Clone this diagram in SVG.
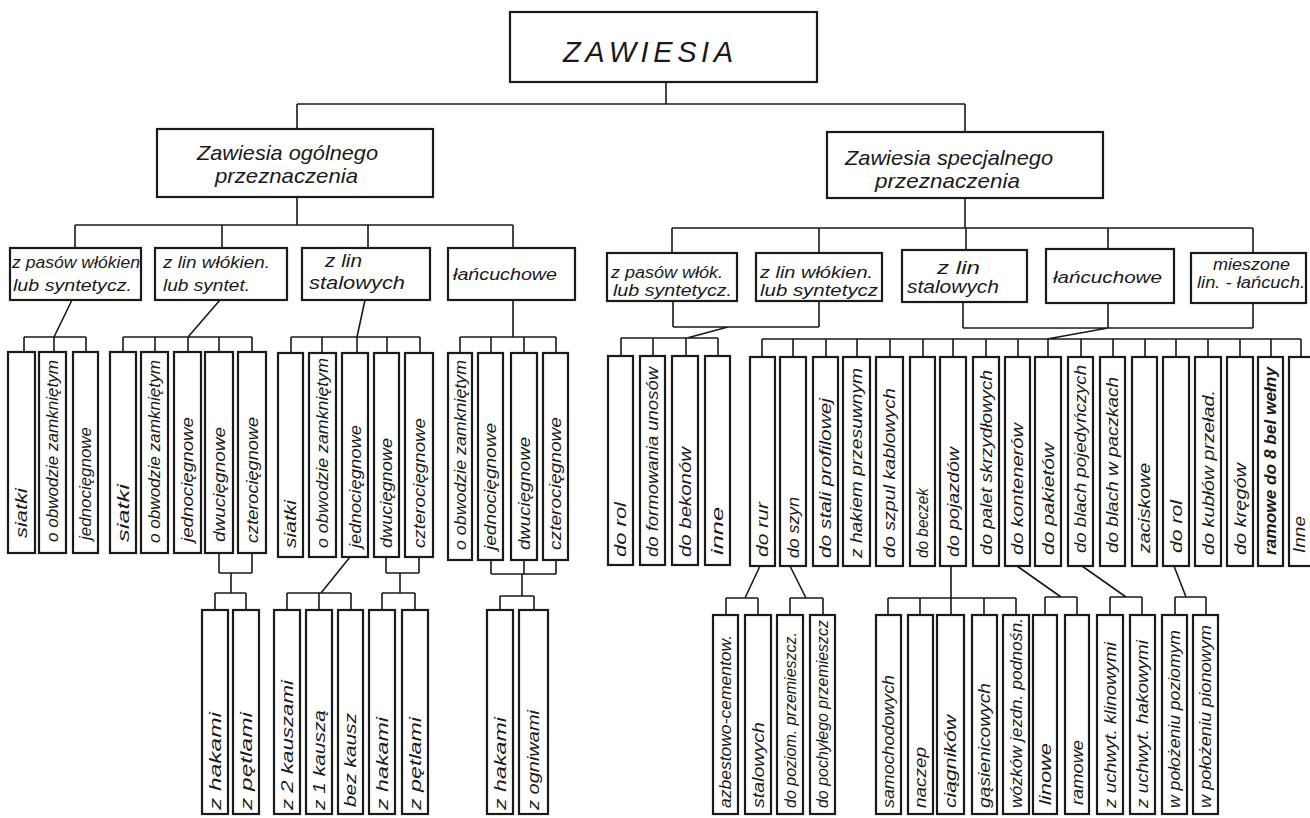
<svg xmlns="http://www.w3.org/2000/svg" width="1310" height="818" viewBox="0 0 1310 818">
<style>
.b{fill:#fff;stroke:#1a1a1a;stroke-width:2.2}
.c{fill:none;stroke:#1a1a1a;stroke-width:1.6}
text{font-family:"Liberation Sans",Arial,sans-serif;font-style:italic;fill:#1a1a1a}
.t{font-size:29px}
.l1{font-size:21px}
.h{font-size:16px}
.hb{font-size:19px}
.v{font-size:17px}
</style>
<rect width="1310" height="818" fill="#fff"/>
<g id="connectors">
<path class="c" d="M666,82V104M297,104H965M297,104V129M965,104V132"/>
<path class="c" d="M297,197V225M75,225H513M75,225V248M222,225V248M368,225V248M513,225V248"/>
<path class="c" d="M965,198V228M672,228H1253M672,228V253M819,228V253M966,228V250M1108,228V249M1253,228V253"/>
<path class="c" d="M72,300L54,337M24,337H86M24,337V352M54,337V352M86,337V352"/>
<path class="c" d="M220,300L188,337M123,337H252M123,337V352M155,337V352M188,337V352M219,337V352M252,337V352"/>
<path class="c" d="M365,300L357,337M291,337H420M291,337V353M322,337V353M357,337V353M387,337V353M420,337V353"/>
<path class="c" d="M513,300V337M460,337H556M460,337V353M491,337V353M524,337V353M556,337V353"/>
<path class="c" d="M219,553V573M252,553V573M219,573H252M231,573V593M215,593H246M215,593V610M246,593V610"/>
<path class="c" d="M350,557L321,593M287,593H351M287,593V610M319,593V610M351,593V610"/>
<path class="c" d="M386,557V573M419,557V573M386,573H419M400,573V593M382,593H415M382,593V610M415,593V610"/>
<path class="c" d="M491,560V574M524,560V574M556,560V574M491,574H556M522,574V596M500,596H534M500,596V610M534,596V610"/>
<path class="c" d="M673,301V327M819,301V327M673,327H819M728,327L687,338M621,338H718M621,338V356M653,338V356M686,338V356M718,338V356"/>
<path class="c" d="M963,302V328M1108,303V328M1253,303V328M963,328H1253M1108,328L1047,339M762,339H1301M762,339V357M793,339V357M826,339V357M857,339V357M890,339V357M923,339V357M953,339V357M986,339V357M1018,339V357M1048,339V357M1081,339V357M1113,339V357M1145,339V357M1176,339V357M1208,339V357M1240,339V357M1271,339V357M1301,339V357"/>
<path class="c" d="M760,566L745,598M726,598H758M726,598V615M758,598V615"/>
<path class="c" d="M790,566L806,598M790,598H823M790,598V615M823,598V615"/>
<path class="c" d="M951,566V598M888,598H1016M888,598V615M920,598V615M951,598V615M984,598V615M1016,598V615"/>
<path class="c" d="M1017,566L1061,597M1045,597H1077M1045,597V615M1077,597V615"/>
<path class="c" d="M1082,566L1126,597M1110,597H1142M1110,597V615M1142,597V615"/>
<path class="c" d="M1174,566L1186,597M1175,597H1206M1175,597V615M1206,597V615"/>
</g>
<g id="n-root"><rect class="b" x="510" y="12" width="307" height="70"/><text class="t" x="563" y="62" textLength="170" lengthAdjust="spacing">ZAWIESIA</text></g>
<g id="n-ogolne"><rect class="b" x="157" y="129" width="276" height="68"/><text class="l1" x="197" y="160" textLength="181" lengthAdjust="spacingAndGlyphs">Zawiesia ogólnego</text><text class="l1" x="215" y="183" textLength="143" lengthAdjust="spacingAndGlyphs">przeznaczenia</text></g>
<g id="n-specjalne"><rect class="b" x="827" y="132" width="276" height="66"/><text class="l1" x="845" y="165" textLength="208" lengthAdjust="spacingAndGlyphs">Zawiesia specjalnego</text><text class="l1" x="875" y="188" textLength="145" lengthAdjust="spacingAndGlyphs">przeznaczenia</text></g>
<g id="n-og-pasy"><rect class="b" x="10" y="248" width="131" height="52"/><text class="h" x="12" y="268" textLength="128" lengthAdjust="spacingAndGlyphs">z pasów włókien</text><text class="h" x="13" y="291" textLength="119" lengthAdjust="spacingAndGlyphs">lub syntetycz.</text></g>
<g id="n-og-liny-wl"><rect class="b" x="155" y="248" width="132" height="52"/><text class="h" x="163" y="268" textLength="107" lengthAdjust="spacingAndGlyphs">z lin włókien.</text><text class="h" x="163" y="291" textLength="87" lengthAdjust="spacingAndGlyphs">lub syntet.</text></g>
<g id="n-og-liny-st"><rect class="b" x="302" y="248" width="128" height="52"/><text class="hb" x="325" y="267" textLength="37" lengthAdjust="spacingAndGlyphs">z lin</text><text class="hb" x="309" y="289" textLength="96" lengthAdjust="spacingAndGlyphs">stalowych</text></g>
<g id="n-og-lanc"><rect class="b" x="448" y="248" width="127" height="52"/><text class="h" x="453" y="280" textLength="104" lengthAdjust="spacingAndGlyphs">łańcuchowe</text></g>
<g id="n-sp-pasy"><rect class="b" x="607" y="253" width="130" height="48"/><text class="h" x="611" y="278" textLength="112" lengthAdjust="spacingAndGlyphs">z pasów włók.</text><text class="h" x="613" y="296" textLength="119" lengthAdjust="spacingAndGlyphs">lub syntetycz.</text></g>
<g id="n-sp-liny-wl"><rect class="b" x="756" y="253" width="126" height="48"/><text class="h" x="760" y="278" textLength="113" lengthAdjust="spacingAndGlyphs">z lin włókien.</text><text class="h" x="760" y="296" textLength="118" lengthAdjust="spacingAndGlyphs">lub syntetycz</text></g>
<g id="n-sp-liny-st"><rect class="b" x="902" y="250" width="125" height="52"/><text class="hb" x="937" y="274" textLength="43" lengthAdjust="spacingAndGlyphs">z lin</text><text class="hb" x="907" y="293" textLength="92" lengthAdjust="spacingAndGlyphs">stalowych</text></g>
<g id="n-sp-lanc"><rect class="b" x="1046" y="249" width="128" height="54"/><text class="h" x="1053" y="283" textLength="109" lengthAdjust="spacingAndGlyphs">łańcuchowe</text></g>
<g id="n-sp-miesz"><rect class="b" x="1191" y="253" width="115" height="50"/><text class="h" x="1213" y="270" textLength="77" lengthAdjust="spacingAndGlyphs">mieszone</text><text class="h" x="1197" y="288" textLength="108" lengthAdjust="spacingAndGlyphs">lin. - łańcuch.</text></g>
<g id="a1"><rect class="b" x="8" y="352" width="27" height="201"/><text class="v" transform="translate(27,538) rotate(-90)" textLength="50" lengthAdjust="spacingAndGlyphs">siatki</text></g>
<g id="a2"><rect class="b" x="39" y="352" width="27" height="201"/><text class="v" transform="translate(58,542) rotate(-90)" textLength="182" lengthAdjust="spacingAndGlyphs">o obwodzie zamkniętym</text></g>
<g id="a3"><rect class="b" x="73" y="352" width="25" height="201"/><text class="v" transform="translate(91,540) rotate(-90)" textLength="113" lengthAdjust="spacingAndGlyphs">jednocięgnowe</text></g>
<g id="b1"><rect class="b" x="110" y="352" width="26" height="201"/><text class="v" transform="translate(128.5,542) rotate(-90)" textLength="58" lengthAdjust="spacingAndGlyphs">siatki</text></g>
<g id="b2"><rect class="b" x="141" y="352" width="27" height="201"/><text class="v" transform="translate(160,543) rotate(-90)" textLength="183" lengthAdjust="spacingAndGlyphs">o obwodzie zamkniętym</text></g>
<g id="b3"><rect class="b" x="174" y="352" width="27" height="201"/><text class="v" transform="translate(193,542) rotate(-90)" textLength="125" lengthAdjust="spacingAndGlyphs">jednocięgnowe</text></g>
<g id="b4"><rect class="b" x="205" y="352" width="28" height="201"/><text class="v" transform="translate(224.5,542) rotate(-90)" textLength="115" lengthAdjust="spacingAndGlyphs">dwucięgnowe</text></g>
<g id="b5"><rect class="b" x="238" y="352" width="28" height="201"/><text class="v" transform="translate(257.5,543) rotate(-90)" textLength="126" lengthAdjust="spacingAndGlyphs">czterocięgnowe</text></g>
<g id="c1"><rect class="b" x="278" y="353" width="25" height="204"/><text class="v" transform="translate(296,548) rotate(-90)" textLength="48" lengthAdjust="spacingAndGlyphs">siatki</text></g>
<g id="c2"><rect class="b" x="309" y="353" width="27" height="204"/><text class="v" transform="translate(328,548) rotate(-90)" textLength="190" lengthAdjust="spacingAndGlyphs">o obwodzie zamkniętym</text></g>
<g id="c3"><rect class="b" x="342" y="353" width="26" height="204"/><text class="v" transform="translate(360.5,548) rotate(-90)" textLength="123" lengthAdjust="spacingAndGlyphs">jednocięgnowe</text></g>
<g id="c4"><rect class="b" x="374" y="353" width="25" height="204"/><text class="v" transform="translate(392,548) rotate(-90)" textLength="110" lengthAdjust="spacingAndGlyphs">dwucięgnowe</text></g>
<g id="c5"><rect class="b" x="405" y="353" width="28" height="204"/><text class="v" transform="translate(424.5,548) rotate(-90)" textLength="130" lengthAdjust="spacingAndGlyphs">czterocięgnowe</text></g>
<g id="d1"><rect class="b" x="448" y="353" width="24" height="207"/><text class="v" transform="translate(465.5,550) rotate(-90)" textLength="190" lengthAdjust="spacingAndGlyphs">o obwodzie zamkniętym</text></g>
<g id="d2"><rect class="b" x="478" y="353" width="25" height="207"/><text class="v" transform="translate(496,550) rotate(-90)" textLength="127" lengthAdjust="spacingAndGlyphs">jednocięgnowe</text></g>
<g id="d3"><rect class="b" x="511" y="353" width="26" height="207"/><text class="v" transform="translate(529.5,550) rotate(-90)" textLength="113" lengthAdjust="spacingAndGlyphs">dwucięgnowe</text></g>
<g id="d4"><rect class="b" x="543" y="353" width="25" height="207"/><text class="v" transform="translate(561,550) rotate(-90)" textLength="133" lengthAdjust="spacingAndGlyphs">czterocięgnowe</text></g>
<g id="e1"><rect class="b" x="202" y="610" width="26" height="204"/><text class="v" transform="translate(220.5,810) rotate(-90)" textLength="98" lengthAdjust="spacingAndGlyphs">z hakami</text></g>
<g id="e2"><rect class="b" x="233" y="610" width="26" height="204"/><text class="v" transform="translate(251.5,810) rotate(-90)" textLength="98" lengthAdjust="spacingAndGlyphs">z pętlami</text></g>
<g id="e3"><rect class="b" x="274" y="610" width="26" height="204"/><text class="v" transform="translate(292.5,810) rotate(-90)" textLength="130" lengthAdjust="spacingAndGlyphs">z 2 kauszami</text></g>
<g id="e4"><rect class="b" x="306" y="610" width="26" height="204"/><text class="v" transform="translate(324.5,810) rotate(-90)" textLength="100" lengthAdjust="spacingAndGlyphs">z 1 kauszą</text></g>
<g id="e5"><rect class="b" x="338" y="610" width="25" height="204"/><text class="v" transform="translate(356,807) rotate(-90)" textLength="94" lengthAdjust="spacingAndGlyphs">bez kausz</text></g>
<g id="e6"><rect class="b" x="369" y="610" width="26" height="204"/><text class="v" transform="translate(387.5,810) rotate(-90)" textLength="93" lengthAdjust="spacingAndGlyphs">z hakami</text></g>
<g id="e7"><rect class="b" x="402" y="610" width="26" height="204"/><text class="v" transform="translate(420.5,810) rotate(-90)" textLength="93" lengthAdjust="spacingAndGlyphs">z pętlami</text></g>
<g id="e8"><rect class="b" x="487" y="610" width="26" height="204"/><text class="v" transform="translate(505.5,810) rotate(-90)" textLength="93" lengthAdjust="spacingAndGlyphs">z hakami</text></g>
<g id="e9"><rect class="b" x="519" y="610" width="29" height="204"/><text class="v" transform="translate(539,810) rotate(-90)" textLength="100" lengthAdjust="spacingAndGlyphs">z ogniwami</text></g>
<g id="f1"><rect class="b" x="608" y="356" width="25" height="209"/><text class="v" transform="translate(626,557) rotate(-90)" textLength="55" lengthAdjust="spacingAndGlyphs">do rol</text></g>
<g id="f2"><rect class="b" x="640" y="356" width="25" height="209"/><text class="v" transform="translate(658,557) rotate(-90)" textLength="190" lengthAdjust="spacingAndGlyphs">do formowania unosów</text></g>
<g id="f3"><rect class="b" x="672" y="356" width="26" height="209"/><text class="v" transform="translate(690.5,557) rotate(-90)" textLength="110" lengthAdjust="spacingAndGlyphs">do bekonów</text></g>
<g id="f4"><rect class="b" x="705" y="356" width="25" height="209"/><text class="v" transform="translate(723,555) rotate(-90)" textLength="48" lengthAdjust="spacingAndGlyphs">inne</text></g>
<g id="g1"><rect class="b" x="750" y="357" width="25" height="209"/><text class="v" transform="translate(768,557) rotate(-90)" textLength="55" lengthAdjust="spacingAndGlyphs">do rur</text></g>
<g id="g2"><rect class="b" x="780" y="357" width="26" height="209"/><text class="v" transform="translate(798.5,558) rotate(-90)" textLength="61" lengthAdjust="spacingAndGlyphs">do szyn</text></g>
<g id="g3"><rect class="b" x="813" y="357" width="25" height="209"/><text class="v" transform="translate(831,558) rotate(-90)" textLength="160" lengthAdjust="spacingAndGlyphs">do stali profilowej</text></g>
<g id="g4"><rect class="b" x="843" y="357" width="27" height="209"/><text class="v" transform="translate(862,558) rotate(-90)" textLength="190" lengthAdjust="spacingAndGlyphs">z hakiem przesuwnym</text></g>
<g id="g5"><rect class="b" x="876" y="357" width="27" height="209"/><text class="v" transform="translate(895,558) rotate(-90)" textLength="170" lengthAdjust="spacingAndGlyphs">do szpul kablowych</text></g>
<g id="g6"><rect class="b" x="910" y="357" width="25" height="209"/><text class="v" transform="translate(928,558) rotate(-90)" textLength="70" lengthAdjust="spacingAndGlyphs">do beczek</text></g>
<g id="g7"><rect class="b" x="940" y="357" width="26" height="209"/><text class="v" transform="translate(958.5,557) rotate(-90)" textLength="110" lengthAdjust="spacingAndGlyphs">do pojazdów</text></g>
<g id="g8"><rect class="b" x="973" y="357" width="26" height="209"/><text class="v" transform="translate(991.5,555) rotate(-90)" textLength="185" lengthAdjust="spacingAndGlyphs">do palet skrzydłowych</text></g>
<g id="g9"><rect class="b" x="1005" y="357" width="25" height="209"/><text class="v" transform="translate(1023,555) rotate(-90)" textLength="132" lengthAdjust="spacingAndGlyphs">do kontenerów</text></g>
<g id="g10"><rect class="b" x="1035" y="357" width="26" height="209"/><text class="v" transform="translate(1053.5,555) rotate(-90)" textLength="112" lengthAdjust="spacingAndGlyphs">do pakietów</text></g>
<g id="g11"><rect class="b" x="1068" y="357" width="25" height="209"/><text class="v" transform="translate(1086,553) rotate(-90)" textLength="188" lengthAdjust="spacingAndGlyphs">do blach pojedyńczych</text></g>
<g id="g12"><rect class="b" x="1100" y="357" width="25" height="209"/><text class="v" transform="translate(1118,553) rotate(-90)" textLength="176" lengthAdjust="spacingAndGlyphs">do blach w paczkach</text></g>
<g id="g13"><rect class="b" x="1132" y="357" width="25" height="209"/><text class="v" transform="translate(1150,553) rotate(-90)" textLength="90" lengthAdjust="spacingAndGlyphs">zaciskowe</text></g>
<g id="g14"><rect class="b" x="1163" y="357" width="26" height="209"/><text class="v" transform="translate(1181.5,553) rotate(-90)" textLength="53" lengthAdjust="spacingAndGlyphs">do rol</text></g>
<g id="g15"><rect class="b" x="1195" y="357" width="26" height="209"/><text class="v" transform="translate(1213.5,555) rotate(-90)" textLength="165" lengthAdjust="spacingAndGlyphs">do kubłów przeład.</text></g>
<g id="g16"><rect class="b" x="1227" y="357" width="26" height="209"/><text class="v" transform="translate(1245.5,555) rotate(-90)" textLength="92" lengthAdjust="spacingAndGlyphs">do kręgów</text></g>
<g id="g17"><rect class="b" x="1258" y="357" width="25" height="209"/><text class="v" transform="translate(1276,555) rotate(-90)" textLength="188" lengthAdjust="spacingAndGlyphs" font-weight="bold">ramowe do 8 bel wełny</text></g>
<g id="g18"><rect class="b" x="1289" y="357" width="26" height="209"/><text class="v" transform="translate(1305,553) rotate(-90)" textLength="37" lengthAdjust="spacingAndGlyphs">Inne</text></g>
<g id="h1"><rect class="b" x="713" y="615" width="25" height="199"/><text class="v" transform="translate(731,808) rotate(-90)" textLength="173" lengthAdjust="spacingAndGlyphs">azbestowo-cementow.</text></g>
<g id="h2"><rect class="b" x="745" y="615" width="26" height="199"/><text class="v" transform="translate(763.5,808) rotate(-90)" textLength="86" lengthAdjust="spacingAndGlyphs">stalowych</text></g>
<g id="h3"><rect class="b" x="777" y="615" width="26" height="199"/><text class="v" transform="translate(795.5,808) rotate(-90)" textLength="176" lengthAdjust="spacingAndGlyphs">do poziom. przemieszcz.</text></g>
<g id="h4"><rect class="b" x="810" y="615" width="25" height="199"/><text class="v" transform="translate(828,808) rotate(-90)" textLength="188" lengthAdjust="spacingAndGlyphs">do pochyłego przemieszcz</text></g>
<g id="h5"><rect class="b" x="876" y="615" width="25" height="199"/><text class="v" transform="translate(894,808) rotate(-90)" textLength="133" lengthAdjust="spacingAndGlyphs">samochodowych</text></g>
<g id="h6"><rect class="b" x="908" y="615" width="25" height="199"/><text class="v" transform="translate(926,808) rotate(-90)" textLength="61" lengthAdjust="spacingAndGlyphs">naczep</text></g>
<g id="h7"><rect class="b" x="937" y="615" width="27" height="199"/><text class="v" transform="translate(956,808) rotate(-90)" textLength="93" lengthAdjust="spacingAndGlyphs">ciągników</text></g>
<g id="h8"><rect class="b" x="972" y="615" width="25" height="199"/><text class="v" transform="translate(990,808) rotate(-90)" textLength="125" lengthAdjust="spacingAndGlyphs">gąsienicowych</text></g>
<g id="h9"><rect class="b" x="1003" y="615" width="26" height="199"/><text class="v" transform="translate(1021.5,808) rotate(-90)" textLength="190" lengthAdjust="spacingAndGlyphs">wózków jezdn. podnośn.</text></g>
<g id="h10"><rect class="b" x="1033" y="615" width="24" height="199"/><text class="v" transform="translate(1050.5,805) rotate(-90)" textLength="62" lengthAdjust="spacingAndGlyphs">linowe</text></g>
<g id="h11"><rect class="b" x="1065" y="615" width="24" height="199"/><text class="v" transform="translate(1082.5,805) rotate(-90)" textLength="65" lengthAdjust="spacingAndGlyphs">ramowe</text></g>
<g id="h12"><rect class="b" x="1097" y="615" width="26" height="199"/><text class="v" transform="translate(1115.5,808) rotate(-90)" textLength="166" lengthAdjust="spacingAndGlyphs">z uchwyt. klinowymi</text></g>
<g id="h13"><rect class="b" x="1130" y="615" width="25" height="199"/><text class="v" transform="translate(1148,808) rotate(-90)" textLength="168" lengthAdjust="spacingAndGlyphs">z uchwyt. hakowymi</text></g>
<g id="h14"><rect class="b" x="1162" y="615" width="25" height="199"/><text class="v" transform="translate(1180,808) rotate(-90)" textLength="178" lengthAdjust="spacingAndGlyphs">w położeniu poziomym</text></g>
<g id="h15"><rect class="b" x="1193" y="615" width="25" height="199"/><text class="v" transform="translate(1211,808) rotate(-90)" textLength="183" lengthAdjust="spacingAndGlyphs">w położeniu pionowym</text></g>
</svg>
